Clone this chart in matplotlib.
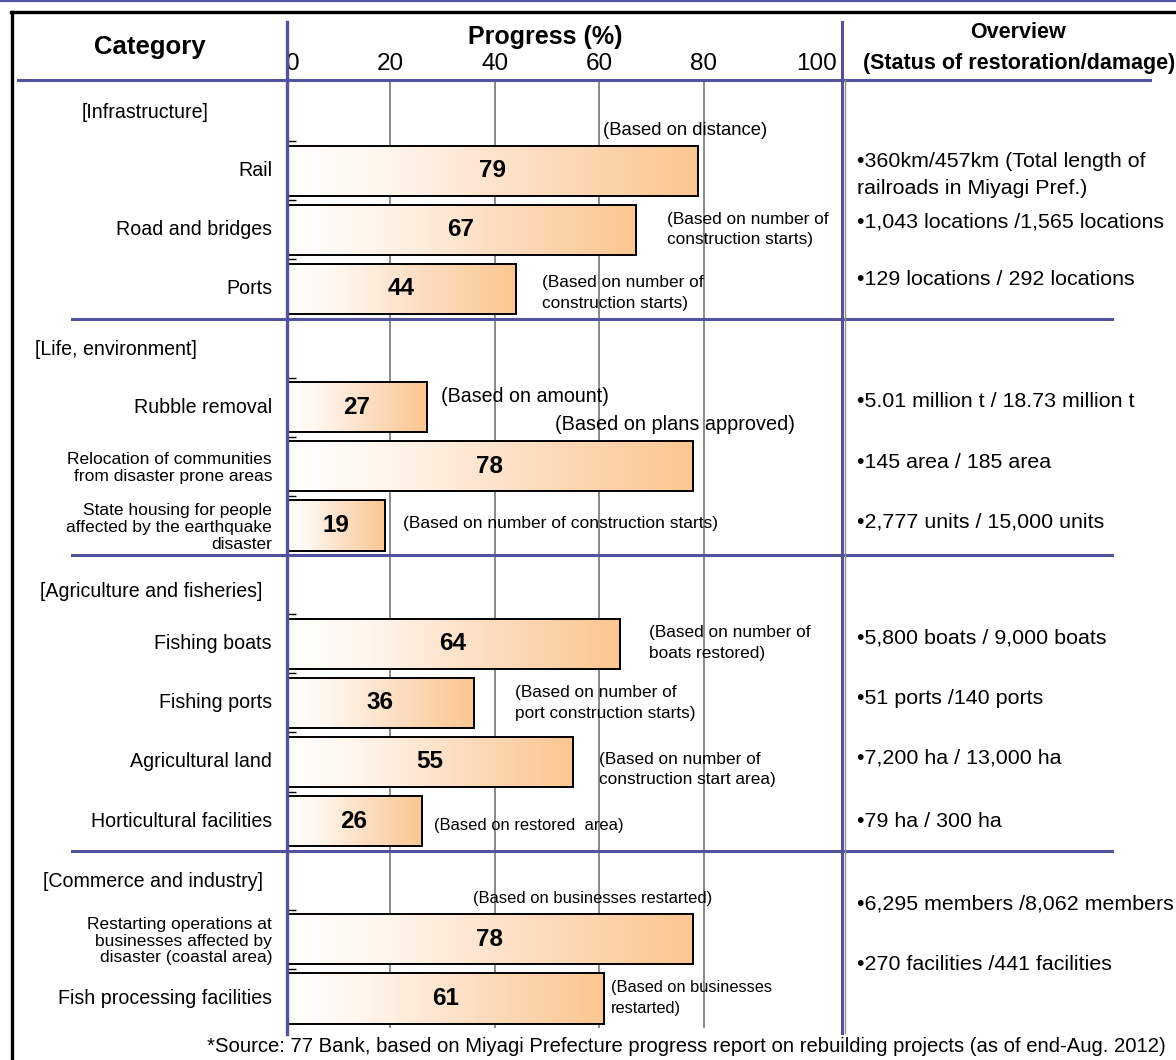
import numpy as np
import matplotlib
matplotlib.use('Agg')
import matplotlib.pyplot as plt
from matplotlib import font_manager
from matplotlib.colors import LinearSegmentedColormap
from matplotlib.lines import Line2D
import matplotlib.transforms as mtransforms

# ---------------- data ----------------
categories = ["Rail", "Road and bridges", "Ports", "Rubble removal",
              "Relocation of communities\nfrom disaster prone areas",
              "State housing for people\naffected by the earthquake\ndisaster",
              "Fishing boats", "Fishing ports", "Agricultural land",
              "Horticultural facilities",
              "Restarting operations at\nbusinesses affected by\ndisaster (coastal area)",
              "Fish processing facilities"]
progress = [79, 67, 44, 27, 78, 19, 64, 36, 55, 26, 78, 61]
slots = [1, 2, 3, 5, 6, 7, 9, 10, 11, 12, 14, 15]

groups = ["[Infrastructure]", "[Life, environment]",
          "[Agriculture and fisheries]", "[Commerce and industry]"]
group_slots = [0.02, 4.03, 8.12, 13.02]
group_left_px = [82, 35, 40, 43]
separators = [3.5, 7.5, 12.5]

notes = ["(Based on distance)",
         "(Based on number of\nconstruction starts)",
         "(Based on number of\nconstruction starts)",
         "(Based on amount)",
         "(Based on plans approved)",
         "(Based on number of construction starts)",
         "(Based on number of\nboats restored)",
         "(Based on number of\nport construction starts)",
         "(Based on number of\nconstruction start area)",
         "(Based on restored  area)",
         "(Based on businesses restarted)",
         "(Based on businesses\nrestarted)"]
note_x = [60.7, 73.0, 49.0, 29.7, 51.5, 22.4, 69.5, 43.9, 60.0, 28.4, 35.8, 62.3]
note_y = [0.32, 1.99, 3.07, 4.82, 5.29, 6.97, 8.99, 10.0, 11.13, 12.07, 13.31, 14.99]
note_size = [13.3, 12.4, 12.4, 14.1, 14.3, 12.5, 12.4, 12.4, 12.4, 11.9, 11.9, 11.8]

overview = ["•360km/457km (Total length of\nrailroads in Miyagi Pref.)",
            "•1,043 locations /1,565 locations",
            "•129 locations / 292 locations",
            "•5.01 million t / 18.73 million t",
            "•145 area / 185 area",
            "•2,777 units / 15,000 units",
            "•5,800 boats / 9,000 boats",
            "•51 ports /140 ports",
            "•7,200 ha / 13,000 ha",
            "•79 ha / 300 ha",
            "•6,295 members /8,062 members",
            "•270 facilities /441 facilities"]
overview_y = [1.07, 1.86, 2.84, 4.90, 5.94, 6.95, 8.90, 9.93, 10.94, 12.0, 13.41, 14.43]

xticks = [0, 20, 40, 60, 80, 100]
source = ("*Source: 77 Bank, based on Miyagi Prefecture progress report on "
          "rebuilding projects (as of end-Aug. 2012)")

# ---------------- fonts ----------------
names = {f.name for f in font_manager.fontManager.ttflist}
FONT = 'Liberation Sans' if 'Liberation Sans' in names else 'DejaVu Sans'
plt.rcParams['font.family'] = [FONT, 'DejaVu Sans']

PURPLE = '#52529E'

W, H = 1176, 1060
fig = plt.figure(figsize=(W / 100, H / 100), dpi=100)
fig.patch.set_facecolor('white')


def fx(px):
    return px / W


def fy(py):
    return 1 - py / H


# axes: x 0 at px 286, 100 at px 808 ; right edge 843 ; top 82, bottom 1028
ax_left, ax_right, ax_top, ax_bot = 286, 843, 82, 1028
ax = fig.add_axes([fx(ax_left), fy(ax_bot), (ax_right - ax_left) / W, (ax_bot - ax_top) / H])
ppu = (808 - 286) / 100.0
ax.set_xlim(0, (ax_right - ax_left) / ppu)
ax.set_ylim(15.5, -0.5)
for s in ax.spines.values():
    s.set_visible(False)
ax.set_xticks([])
ax.set_yticks([k + 0.5 for k in range(15)])
ax.set_yticklabels([])
ax.tick_params(axis='y', direction='in', length=7, width=1, color='black')

# grid lines
for g in xticks[1:-1]:
    ax.axvline(g, color='#808080', lw=1.3, zorder=1)

# bars with gradient
cmap = LinearSegmentedColormap.from_list(
    'peach', [(0, '#FFFFFF'), (0.25, '#FFF5EC'), (0.6, '#FDDDC0'), (1.0, '#FBC690')])
grad = np.linspace(0, 1, 256).reshape(1, -1)
bh = 0.85
for v, s in zip(progress, slots):
    ax.imshow(grad, extent=(0, v, s + bh / 2, s - bh / 2), aspect='auto',
              cmap=cmap, interpolation='bicubic', zorder=2)
    ax.barh(s, v, height=bh, facecolor='none', edgecolor='black', lw=1.4, zorder=3)
    ax.text(v / 2, s, str(v), ha='center', va='center', fontsize=17.5,
            fontweight='bold', zorder=4)
ax.set_xlim(0, (ax_right - ax_left) / ppu)
ax.set_ylim(15.5, -0.5)

# notes
for t, x, y, fs in zip(notes, note_x, note_y, note_size):
    ax.text(x, y, t, ha='left', va='center', fontsize=fs,
            linespacing=1.45, zorder=5, clip_on=False)

# tick labels on top
xt = ax.get_xaxis_transform()
for t in xticks:
    ha = 'left' if t == 0 else 'center'
    off = 8 / ppu if t == 100 else 0
    ax.text(t + off, 1.0 + 7 / (ax_bot - ax_top), str(t), transform=xt, ha=ha,
            va='bottom', fontsize=17.5, clip_on=False)

# category labels
ytr = ax.get_yaxis_transform()
lab_x = (272 - ax_left) / (ax_right - ax_left)
for c, s in zip(categories, slots):
    if '\n' in c:
        ax.text(lab_x, s + 0.03, c, transform=ytr, ha='right', va='center',
                fontsize=12.5, linespacing=1.15, clip_on=False)
    else:
        ax.text(lab_x, s, c, transform=ytr, ha='right', va='center',
                fontsize=14.1, clip_on=False)

# group headers
bt = mtransforms.blended_transform_factory(fig.transFigure, ax.transData)
for g, s, px in zip(groups, group_slots, group_left_px):
    ax.text(fx(px), s, g, transform=bt, ha='left', va='center', fontsize=14.1,
            clip_on=False)

# overview texts
ov_x = (857 - ax_left) / (ax_right - ax_left)
for t, y in zip(overview, overview_y):
    ax.text(ov_x, y, t, transform=ytr, ha='left', va='center', fontsize=15.4,
            linespacing=1.55, clip_on=False)

# section separator lines
for s in separators:
    fig.add_artist(Line2D([fx(72), fx(1112)], [s, s], transform=bt, color=PURPLE,
                          lw=2.2, clip_on=False, zorder=6))

# header texts
fig.text(fx(150), fy(47), "Category", ha='center', va='center', fontsize=18.5,
         fontweight='bold')
fig.text(fx(545), fy(37), "Progress (%)", ha='center', va='center', fontsize=18,
         fontweight='bold')
fig.text(fx(1018), fy(32), "Overview", ha='center', va='center', fontsize=15.5,
         fontweight='bold')
fig.text(fx(1019), fy(63), "(Status of restoration/damage)", ha='center', va='center',
         fontsize=15.5, fontweight='bold')

# source
fig.text(fx(207), fy(1047), source, ha='left', va='center', fontsize=14.6)

# frame lines
fig.add_artist(Line2D([0, 1], [fy(0.8), fy(0.8)], color=PURPLE, lw=1.6))
fig.add_artist(Line2D([fx(11), 1], [fy(12), fy(12)], color='black', lw=2.4))
fig.add_artist(Line2D([fx(12), fx(12)], [fy(12), 0], color='black', lw=2.4))
fig.add_artist(Line2D([fx(18), fx(1150)], [fy(80), fy(80)], color=PURPLE, lw=2.2))
fig.add_artist(Line2D([fx(286.5), fx(286.5)], [fy(22), fy(1034)], color=PURPLE, lw=2.4, zorder=7))
fig.add_artist(Line2D([fx(842), fx(842)], [fy(22), fy(1033)], color=PURPLE, lw=2.2, zorder=7))
fig.add_artist(Line2D([fx(844.5), fx(844.5)], [fy(80), fy(1033)], color='#909090', lw=1.0, zorder=7))

fig.savefig('out.png', dpi=100, facecolor='white')
